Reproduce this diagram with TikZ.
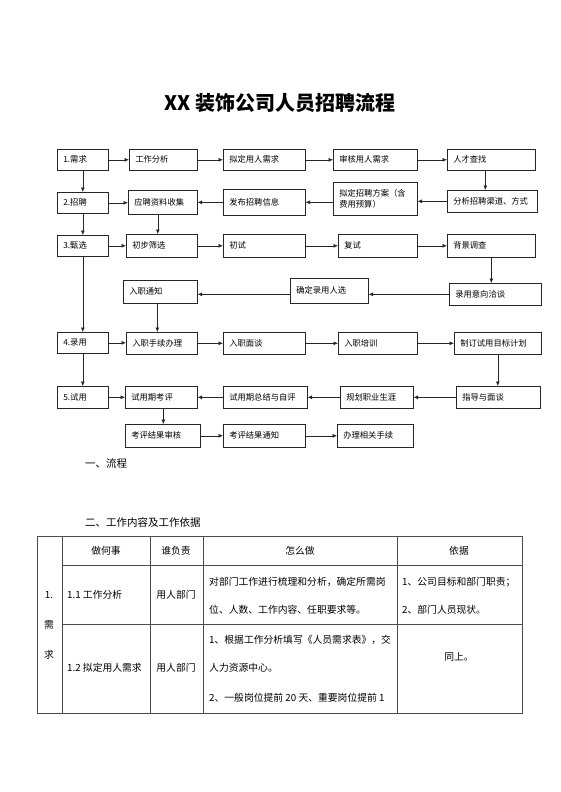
\documentclass[tikz,border=0pt]{standalone}
\usepackage{fontspec}
\setmainfont{Noto Sans CJK SC}
\usetikzlibrary{arrows.meta,calc}
\newcommand\bx[6]{%
  \pgfmathsetmacro\bxw{#4-#2}\pgfmathsetmacro\bxh{#5-#3}\pgfmathsetmacro\bxt{#4-#2-12}%
  \node[box, minimum width=\bxw pt, minimum height=\bxh pt, text width=\bxt pt] (#1) at (#2,#3) {#6};}
\begin{document}
\begin{tikzpicture}[x=1pt,y=-1pt,
  box/.style={draw=black!85, line width=0.6pt, inner xsep=6pt, inner ysep=0pt, align=left,
    font=\fontsize{8.3}{10.5}\selectfont, anchor=north west},
  arr/.style={draw=black!85, line width=0.6pt, -{Latex[length=4.5pt,width=4pt]}},
  tl/.style={draw=black!70, line width=0.7pt},
  tx/.style={font=\fontsize{9.8}{12}\selectfont, inner sep=0pt},
  hd/.style={font=\fontsize{10.5}{12}\selectfont, inner sep=0pt, anchor=west}]
\useasboundingbox[fill=white] (0,0) rectangle (560,792);

\node[font=\fontsize{20}{24}\selectfont\bfseries, inner sep=0pt] (title) at (280,103) {XX 装饰公司人员招聘流程};

\bx{n1}{57}{149}{108}{170}{1.需求}
\bx{a1}{129}{149}{197}{170}{工作分析}
\bx{a2}{223}{149}{305}{170}{拟定用人需求}
\bx{a3}{333}{149}{417}{170}{审核用人需求}
\bx{a4}{447}{149}{535}{170}{人才查找}
\bx{n2}{57}{192}{108}{213}{2.招聘}
\bx{b1}{128}{190}{197}{214}{应聘资料收集}
\bx{b2}{223}{189}{305}{215}{发布招聘信息}
\bx{b3}{333}{182}{417}{215}{拟定招聘方案（含\\费用预算）}
\bx{b4}{447}{190}{537}{212}{分析招聘渠道、方式}
\bx{n3}{57}{235}{108}{256}{3.甄选}
\bx{c1}{126}{234}{197}{257}{初步筛选}
\bx{c2}{223}{234}{305}{257}{初试}
\bx{c3}{338}{234}{417}{257}{复试}
\bx{c4}{447}{234}{535}{257}{背景调查}
\bx{d1}{123}{280}{197}{303}{入职通知}
\bx{d2}{290}{278}{368}{303}{确定录用人选}
\bx{d3}{449}{283}{541}{305}{录用意向洽谈}
\bx{n4}{57}{332}{108}{353}{4.录用}
\bx{e1}{126}{332}{197}{354}{入职手续办理}
\bx{e2}{223}{332}{305}{354}{入职面谈}
\bx{e3}{338}{332}{417}{354}{入职培训}
\bx{e4}{454}{332}{541}{354}{制订试用目标计划}
\bx{n5}{57}{386}{108}{408}{5.试用}
\bx{f1}{125}{386}{197}{408}{试用期考评}
\bx{f2}{223}{386}{307}{408}{试用期总结与自评}
\bx{f3}{340}{386}{413}{408}{规划职业生涯}
\bx{f4}{456}{386}{540}{408}{指导与面谈}
\bx{g1}{125}{424}{200}{447}{考评结果审核}
\bx{g2}{223}{424}{305}{447}{考评结果通知}
\bx{g3}{337}{424}{413}{447}{办理相关手续}

% row 1
\draw[arr] (n1.east) -- (n1.east -| a1.west);
\draw[arr] (a1.east) -- (a1.east -| a2.west);
\draw[arr] (a2.east) -- (a2.east -| a3.west);
\draw[arr] (a3.east) -- (a3.east -| a4.west);
% left column
\draw[arr] (n1.south) -- (n1.south |- n2.north);
\draw[arr] (n2.south) -- (n2.south |- n3.north);
\draw[arr] (n3.south) -- (n3.south |- n4.north);
\draw[arr] (n4.south) -- (n4.south |- n5.north);
% row 2
\draw[arr] ([xshift=-6pt]a4.south) -- ([xshift=-6pt]a4.south |- b4.north);
\draw[arr] (n2.east) -- (n2.east -| b1.west);
\draw[arr] (b2.west) -- (b2.west -| b1.east);
\draw[arr] (b3.west |- b2.west) -- (b2.east);
\draw[arr] (b4.west) -- (b4.west -| b3.east);
\draw[arr] ([xshift=-5pt]b1.south) -- ([xshift=-5pt]b1.south |- c1.north);
% row 3
\draw[arr] (n3.east) -- (n3.east -| c1.west);
\draw[arr] (c1.east) -- (c1.east -| c2.west);
\draw[arr] (c2.east) -- (c2.east -| c3.west);
\draw[arr] (c3.east) -- (c3.east -| c4.west);
\draw[arr] (c4.south) -- (c4.south |- d3.north);
\draw[arr] (d3.west) -- (d3.west -| d2.east);
\draw[arr] (d2.west |- d3.west) -- (d2.west |- d3.west -| d1.east);
\draw[arr] ([xshift=-3pt]d1.south) -- ([xshift=-3pt]d1.south |- e1.north);
% row 4
\draw[arr] (n4.east) -- (n4.east -| e1.west);
\draw[arr] (e1.east) -- (e1.east -| e2.west);
\draw[arr] (e2.east) -- (e2.east -| e3.west);
\draw[arr] (e3.east) -- (e3.east -| e4.west);
\draw[arr] (e4.south) -- (e4.south |- f4.north);
% row 5
\draw[arr] (n5.east) -- (n5.east -| f1.west);
\draw[arr] (f2.west) -- (f2.west -| f1.east);
\draw[arr] (f3.west) -- (f3.west -| f2.east);
\draw[arr] (f4.west) -- (f4.west -| f3.east);
\draw[arr] ([xshift=2pt]f1.south) -- ([xshift=2pt]f1.south |- g1.north);
% row 6
\draw[arr] (g1.east) -- (g1.east -| g2.west);
\draw[arr] (g2.east) -- (g2.east -| g3.west);

% headings
\node[hd] (h1) at (85,463) {一、流程};
\node[hd] (h2) at (85,522) {二、工作内容及工作依据};

% table
\draw[tl] (37,536) rectangle (522,713);
\draw[tl] (62,536) -- (62,713);
\draw[tl] (150,536) -- (150,713);
\draw[tl] (203,536) -- (203,713);
\draw[tl] (397,536) -- (397,713);
\draw[tl] (62,565) -- (522,565);
\draw[tl] (62,624) -- (522,624);

\node[tx] (t00) at (49,595) {1.};
\node[tx] (t01) at (49,625) {需};
\node[tx] (t02) at (49,655) {求};

\node[tx] (th1) at (106,551) {做何事};
\node[tx] (th2) at (176,551) {谁负责};
\node[tx] (th3) at (300,551) {怎么做};
\node[tx] (th4) at (459,551) {依据};

\node[tx, anchor=west] (r11) at (67,595) {1.1 工作分析};
\node[tx] (r12) at (176,595) {用人部门};
\node[tx, anchor=west] (r13) at (209,582) {对部门工作进行梳理和分析，确定所需岗};
\node[tx, anchor=west] (r13b) at (209,610) {位、人数、工作内容、任职要求等。};
\node[tx, anchor=west] (r14) at (402,582) {1、公司目标和部门职责；};
\node[tx, anchor=west] (r14b) at (402,610) {2、部门人员现状。};

\node[tx, anchor=west] (r21) at (67,668) {1.2 拟定用人需求};
\node[tx] (r22) at (176,668) {用人部门};
\node[tx, anchor=west] (r23) at (209,640) {1、根据工作分析填写《人员需求表》，交};
\node[tx, anchor=west] (r23b) at (209,668) {人力资源中心。};
\node[tx, anchor=west] (r23c) at (209,698) {2、一般岗位提前 20 天、重要岗位提前 1};
\node[tx] (r24) at (459,657) {同上。};
\end{tikzpicture}
\end{document}
